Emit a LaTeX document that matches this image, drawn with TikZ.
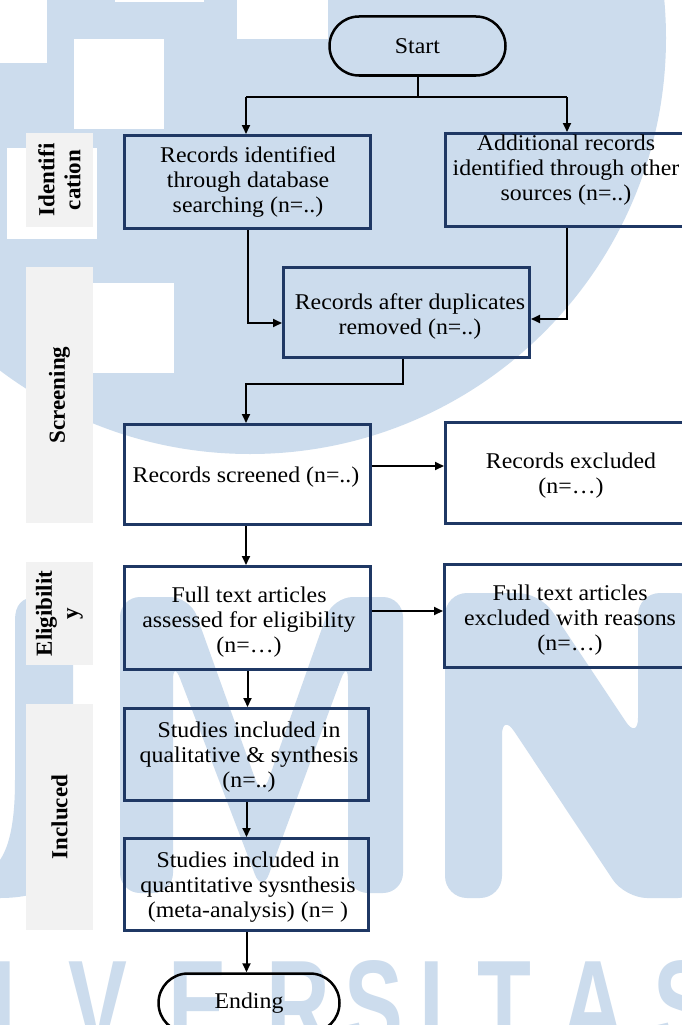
\documentclass[tikz,border=0pt]{standalone}
\usepackage{fontspec}
\setmainfont{Liberation Serif}[FakeStretch=1.06]
\newfontfamily\lblfont{Liberation Serif}
\newfontfamily\wmfont{Liberation Sans}
\usetikzlibrary{arrows.meta,shapes.misc,calc}
\definecolor{wm}{RGB}{204,220,237}
\definecolor{navy}{RGB}{31,56,100}
\definecolor{lblgray}{RGB}{242,242,242}
\begin{document}
\begin{tikzpicture}[x=1pt,y=-1pt,
  box/.style={draw=navy,line width=3pt,inner sep=0pt},
  txt/.style={align=center,font=\fontsize{22.5}{25}\selectfont,inner sep=0pt},
  term/.style={draw=black,line width=2.5pt,rounded rectangle,inner sep=0pt,font=\fontsize{22.5}{25}\selectfont},
  conn/.style={line width=2pt,black},
  arr/.style={conn,-{Triangle[length=9pt,width=8pt]}},
  lbl/.style={fill=lblgray,inner sep=0pt,rotate=90,align=center,font=\lblfont\bfseries\fontsize{23}{26}\selectfont},
  wmletter/.style={text=wm,inner sep=0pt,anchor=base,font=\wmfont\bfseries\fontsize{126}{126}\selectfont}
]
\useasboundingbox (0,0) rectangle (682,1025);
\clip (0,0) rectangle (682,1025);
\fill[white] (0,0) rectangle (682,1025);

% watermark
\fill[wm] (250,38) circle[radius=416pt];
\fill[white] (115,0) rectangle (204,2);
\fill[white] (237,0) rectangle (328,39);
\fill[white] (0,0) rectangle (47,63);
\fill[white] (74,39) rectangle (164,129);
\fill[white] (7,148) rectangle (97,239);
\fill[white] (93,283) rectangle (174,373);
\fill[wm] (15,620) .. controls (15,605) and (22,597) .. (37,597) -- (73,597) -- (73,850) .. controls (73,880) and (45,898) .. (0,898) -- (0,860) .. controls (10,845) and (15,820) .. (15,780) -- cycle;
\fill[wm,rounded corners=20pt] (120,597) -- (190,597) -- (262,798) -- (333,597) -- (403,597) -- (403,893) -- (348,893) -- (348,660) -- (262,893) -- (173,660) -- (173,893) -- (120,893) -- cycle;
\fill[wm,rounded corners=22pt] (445,593) -- (540,593) -- (638,740) -- (638,593) -- (700,593) -- (700,898) -- (625,898) -- (502,713) -- (502,898) -- (445,898) -- cycle;
\node[wmletter] (w1) at (4,1048) {\scalebox{0.7}[1]{I}};
\node[wmletter] (w2) at (98,1048) {\scalebox{0.7}[1]{V}};
\node[wmletter] (w3) at (198,1048) {\scalebox{0.7}[1]{E}};
\node[wmletter] (w4) at (298.5,1048) {\scalebox{0.7}[1]{R}};
\node[wmletter] (w5) at (373.5,1048) {\scalebox{0.7}[1]{S}};
\node[wmletter] (w6) at (431.5,1048) {\scalebox{0.7}[1]{I}};
\node[wmletter] (w7) at (504.5,1048) {\scalebox{0.7}[1]{T}};
\node[wmletter] (w8) at (593.5,1048) {\scalebox{0.7}[1]{A}};
\node[wmletter] (w9) at (683,1048) {\scalebox{0.7}[1]{S}};

% stage labels
\node[lbl,minimum width=94pt,minimum height=67pt] (l1) at (59.5,180) {Identifi\\cation};
\node[lbl,minimum width=256pt,minimum height=67pt] (l2) at (59.5,395) {Screening};
\node[lbl,minimum width=103pt,minimum height=67pt] (l3) at (59.5,613.5) {Eligibilit\\y};
\node[lbl,minimum width=226pt,minimum height=67pt] (l4) at (59.5,817) {Incluced};

% terminals
\node[term,minimum width=176pt,minimum height=59pt] (start) at (417.5,46) {Start};
\node[term,minimum width=181pt,minimum height=59pt] (end) at (249,1003) {Ending};

% boxes
\node[box,minimum width=246pt,minimum height=93pt] (b1) at (247.5,182) {};
\node[box,minimum width=241pt,minimum height=93pt] (b2) at (566,180) {};
\node[box,minimum width=246pt,minimum height=90pt] (b3) at (406.5,312.5) {};
\node[box,minimum width=246pt,minimum height=100pt] (b4) at (247.5,474.5) {};
\node[box,minimum width=251pt,minimum height=101pt] (b5) at (571,473) {};
\node[box,minimum width=246pt,minimum height=103pt] (b6) at (247.5,618) {};
\node[box,minimum width=252pt,minimum height=103pt] (b7) at (570.5,616) {};
\node[box,minimum width=244pt,minimum height=92pt] (b8) at (246.5,754.5) {};
\node[box,minimum width=244pt,minimum height=92pt] (b9) at (246.5,884.5) {};

% box texts
\node[txt] (t1) at (248,182) {Records identified\\through database\\searching (n=..)};
\node[txt] (t2) at (566,170) {Additional records\\identified through other\\sources (n=..)};
\node[txt] (t3) at (410,316) {Records after duplicates\\removed (n=..)};
\node[txt] (t4) at (246,477) {Records screened (n=..)};
\node[txt] (t5) at (571,476) {Records excluded\\(n=…)};
\node[txt] (t6) at (249,622) {Full text articles\\assessed for eligibility\\(n=…)};
\node[txt] (t7) at (570,620) {Full text articles\\excluded with reasons\\(n=…)};
\node[txt] (t8) at (249,757) {Studies included in\\qualitative \& synthesis\\(n=..)};
\node[txt] (t9) at (248,887) {Studies included in\\quantitative sysnthesis\\(meta-analysis) (n= )};

% connectors
\coordinate (sl) at (246,97);
\coordinate (sr) at (567,97);
\draw[conn] (start.south) -- (start.south |- sl);
\draw[conn] (sl) -- (sr);
\draw[arr] (sl) -- (sl |- b1.north);
\draw[arr] (sr) -- (sr |- b2.north);
\coordinate (c1) at (248,323);
\draw[arr] (b1.south -| c1) -- (c1) -- (c1 -| b3.west);
\coordinate (c2) at (567,319);
\draw[arr] (b2.south -| c2) -- (c2) -- (c2 -| b3.east);
\coordinate (c3) at (403,384);
\coordinate (c4) at (246,384);
\draw[arr] (b3.south -| c3) -- (c3) -- (c4) -- (c4 |- b4.north);
\draw[arr] ($(b4.east)+(0,-8.5)$) coordinate (a45) -- (a45 -| b5.west);
\draw[arr] (b4.south -| c4) -- (c4 |- b6.north);
\draw[arr] ($(b6.east)+(0,-7)$) coordinate (a67) -- (a67 -| b7.west);
\draw[arr] (b6.south) -- (b6.south |- b8.north);
\draw[arr] (b8.south) -- (b9.north);
\draw[arr] (b9.south) -- (b9.south |- end.north);
\end{tikzpicture}
\end{document}
